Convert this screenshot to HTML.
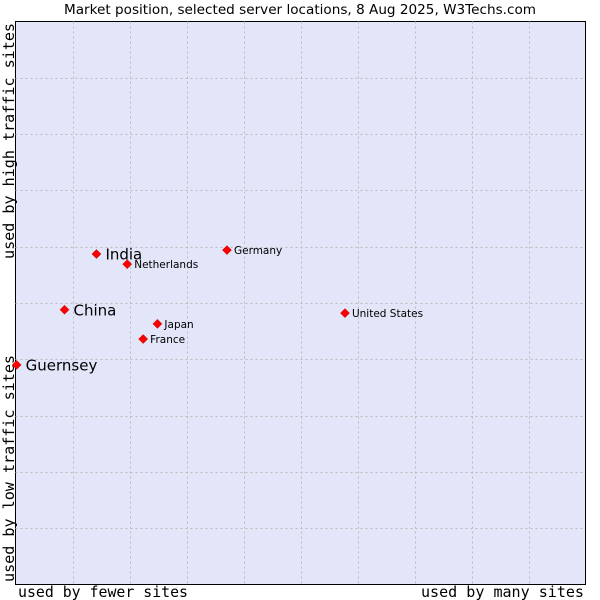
<!DOCTYPE html>
<html><head><meta charset="utf-8"><style>body{margin:0;background:#fff}svg{display:block}</style></head>
<body>
<svg id="c" width="600" height="600" xmlns="http://www.w3.org/2000/svg">
<text x="64" y="14" textLength="472" lengthAdjust="spacingAndGlyphs" font-family="DejaVu Sans, sans-serif" font-size="13">Market position, selected server locations, 8 Aug 2025, W3Techs.com</text>
<rect x="15.5" y="21.5" width="570" height="563" fill="#e3e5f8" stroke="#000"/>
<g id="grid"></g>
<text x="18" y="597" textLength="170" lengthAdjust="spacingAndGlyphs" font-family="DejaVu Sans Mono, monospace" font-size="15">used by fewer sites</text>
<text x="421" y="597" textLength="163" lengthAdjust="spacingAndGlyphs" font-family="DejaVu Sans Mono, monospace" font-size="15">used by many sites</text>
<text transform="translate(14,259) rotate(-90)" textLength="236" lengthAdjust="spacingAndGlyphs" font-family="DejaVu Sans Mono, monospace" font-size="15">used by high traffic sites</text>
<text transform="translate(14,582) rotate(-90)" textLength="227" lengthAdjust="spacingAndGlyphs" font-family="DejaVu Sans Mono, monospace" font-size="15">used by low traffic sites</text>
<g id="pts"></g>
</svg>
<script>
const names=["Guernsey","China","India","Netherlands","Germany","Japan","France","United States"];
const xVals=[0.2,8.6,14.2,19.6,37.1,24.9,22.4,57.8];
const yVals=[39.0,48.8,58.7,56.9,59.4,46.3,43.6,48.2];
const big=[true,true,true,false,false,false,false,false];
const L=15.5,T=21.5,W=570,H=563;
const sx=v=>L+v/100*W, sy=v=>T+H-v/100*H;
const NS="http://www.w3.org/2000/svg";
const g=document.getElementById('grid');
for(let i=1;i<10;i++){
  let l=document.createElementNS(NS,'line');
  
  
  let x=Math.round(sx(i*10))+0.5;
  l.setAttribute('x1',x);l.setAttribute('x2',x);l.setAttribute('y1',T);l.setAttribute('y2',T+H);
  l.setAttribute('stroke','#bbbbbb');l.setAttribute('stroke-dasharray','2,3');g.appendChild(l);
  let m=document.createElementNS(NS,'line');
  
  
  let y=Math.round(sy(i*10))+0.5;
  m.setAttribute('y1',y);m.setAttribute('y2',y);m.setAttribute('x1',L);m.setAttribute('x2',L+W);
  m.setAttribute('stroke','#bbbbbb');m.setAttribute('stroke-dasharray','2,3');g.appendChild(m);
}
const p=document.getElementById('pts');
names.forEach((n,i)=>{
  const x=sx(xVals[i]),y=sy(yVals[i]);
  let d=document.createElementNS(NS,'path');
  
  
  d.setAttribute('d',`M${x} ${y-4.5}L${x+4.5} ${y}L${x} ${y+4.5}L${x-4.5} ${y}Z`);
  d.setAttribute('fill','#f00');d.setAttribute('stroke','#a00');d.setAttribute('stroke-width','0.5');
  p.appendChild(d);
  let t=document.createElementNS(NS,'text');
  
  
  t.setAttribute('x',x+(big[i]?9:7));t.setAttribute('y',y+(big[i]?5.5:4));
  t.setAttribute('font-family','DejaVu Sans, sans-serif');t.setAttribute('font-size',big[i]?15:10.5);
  t.textContent=n;p.appendChild(t);
});
</script>
</body></html>
